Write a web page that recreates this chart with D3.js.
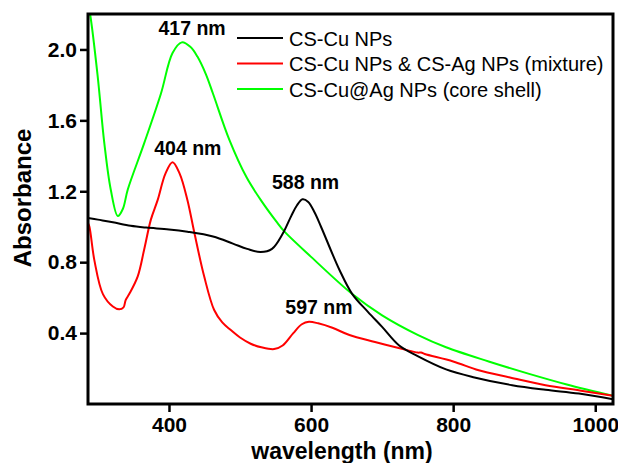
<!DOCTYPE html>
<html>
<head>
<meta charset="utf-8">
<script src="https://cdn.jsdelivr.net/npm/d3@7"></script>
<style>
  body { margin: 0; background: #fff; }
  text { font-family: "Liberation Sans", Arial, sans-serif; }
</style>
</head>
<body>
<div id="chart"></div>
<script>
// CS-Cu NPs (black)
var cuWl  = [286, 300, 321, 346, 368, 400, 426, 462, 490, 510, 529, 545, 560, 572, 580, 588, 596, 605, 614, 640, 658, 680, 700, 724, 750, 790, 830, 883, 930, 977, 1025];
var cuAbs = [1.05, 1.04, 1.025, 1.005, 0.995, 0.985, 0.972, 0.945, 0.905, 0.875, 0.857, 0.875, 0.96, 1.06, 1.12, 1.155, 1.14, 1.08, 1.0, 0.756, 0.62, 0.52, 0.435, 0.33, 0.27, 0.195, 0.15, 0.106, 0.08, 0.059, 0.027];

// CS-Cu NPs & CS-Ag NPs mixture (red)
var mixWl  = [286, 288, 295, 307, 321, 330, 336, 339, 344, 356, 365, 374.5, 384, 395, 405, 415, 426, 435.5, 449.5, 463.6, 475, 487, 500, 515, 530, 548, 560, 575, 587, 597, 610, 630, 654, 690, 729, 750, 755, 760, 800, 836, 880, 930, 980, 1025];
var mixAbs = [1.02, 1.0, 0.81, 0.62, 0.55, 0.534, 0.545, 0.586, 0.62, 0.72, 0.87, 1.04, 1.15, 1.3, 1.364, 1.3, 1.15, 0.97, 0.72, 0.53, 0.46, 0.417, 0.375, 0.34, 0.32, 0.31, 0.33, 0.4, 0.45, 0.464, 0.455, 0.43, 0.389, 0.35, 0.31, 0.29, 0.29, 0.282, 0.24, 0.19, 0.15, 0.106, 0.075, 0.046];

// CS-Cu@Ag core shell (green)
var csWl  = [286, 289, 299.6, 309, 318, 328, 335, 342, 365, 388.6, 405, 418, 430, 440, 452, 462, 485, 509, 531, 551, 562, 600, 658, 700, 750, 790, 850, 907, 960, 1025];
var csAbs = [2.25, 2.197, 1.85, 1.47, 1.21, 1.06, 1.1, 1.21, 1.47, 1.75, 1.98, 2.04, 2.015, 1.96, 1.86, 1.75, 1.49, 1.28, 1.14, 1.03, 0.975, 0.83, 0.62, 0.5, 0.39, 0.32, 0.24, 0.17, 0.11, 0.046];

var seriesNames = ["CS-Cu NPs", "CS-Cu NPs & CS-Ag NPs (mixture)", "CS-Cu@Ag NPs (core shell)"];
var seriesColors = ["#000000", "#ff0000", "#00ff00"];

var xTicks = [400, 600, 800, 1000];
var yTicks = [0.4, 0.8, 1.2, 1.6, 2.0];

var peakLabels = ["417 nm", "404 nm", "588 nm", "597 nm"];
var peakWl     = [417, 404, 588, 597];
var peakAbs    = [2.04, 1.364, 1.155, 0.464];

var width = 618, height = 463;
var margin = {top: 14, right: 5, bottom: 59, left: 88};
var iw = width - margin.left - margin.right;
var ih = height - margin.top - margin.bottom;

var x = d3.scaleLinear().domain([286, 1025]).range([0, iw]);
var y = d3.scaleLinear().domain([0, 2.2]).range([ih, 0]);

var svg = d3.select("#chart").append("svg")
    .attr("width", width).attr("height", height);
var g = svg.append("g").attr("transform", "translate(" + margin.left + "," + margin.top + ")");

g.append("clipPath").attr("id", "clip")
  .append("rect").attr("width", iw).attr("height", ih);

var line = d3.line()
    .x(function(d){ return x(d[0]); })
    .y(function(d){ return y(d[1]); })
    .curve(d3.curveCatmullRom.alpha(0.5));

var allData = [
  d3.zip(cuWl, cuAbs),
  d3.zip(mixWl, mixAbs),
  d3.zip(csWl, csAbs)
];

[2, 1, 0].forEach(function(i){
  g.append("path")
    .datum(allData[i])
    .attr("clip-path", "url(#clip)")
    .attr("fill", "none")
    .attr("stroke", seriesColors[i])
    .attr("stroke-width", 2)
    .attr("d", line);
});

// axes
var xAxis = g.append("g").attr("transform", "translate(0," + ih + ")")
  .call(d3.axisBottom(x).tickValues(xTicks).tickSize(8).tickPadding(5).tickFormat(d3.format("d")));
var yAxis = g.append("g")
  .call(d3.axisLeft(y).tickValues(yTicks).tickSize(8).tickPadding(3).tickFormat(d3.format(".1f")));
[xAxis, yAxis].forEach(function(a){
  a.select(".domain").remove();
  a.selectAll(".tick line").attr("stroke", "#000").attr("stroke-width", 2.5);
  a.selectAll(".tick text").attr("fill", "#000")
    .style("font-size", "21px").style("font-weight", "bold");
});

// frame
g.append("rect")
  .attr("width", iw).attr("height", ih)
  .attr("fill", "none").attr("stroke", "#000").attr("stroke-width", 3);

// axis titles
svg.append("text")
  .attr("x", 342).attr("y", 459)
  .attr("text-anchor", "middle")
  .style("font-size", "23px").style("font-weight", "bold")
  .text("wavelength (nm)");
svg.append("text")
  .attr("transform", "translate(31,198) rotate(-90)")
  .attr("text-anchor", "middle")
  .style("font-size", "24px").style("font-weight", "bold")
  .text("Absorbance");

// peak labels
var offs = [[11, -7], [16, -7], [3, -10], [10, -8]];
peakLabels.forEach(function(t, i){
  g.append("text")
    .attr("x", x(peakWl[i]) + offs[i][0])
    .attr("y", y(peakAbs[i]) + offs[i][1])
    .attr("text-anchor", "middle")
    .style("font-size", "19.5px").style("font-weight", "bold")
    .text(t);
});

// legend
var leg = svg.append("g").attr("transform", "translate(237,38)");
seriesNames.forEach(function(n, i){
  var row = leg.append("g").attr("transform", "translate(0," + (i * 25.5) + ")");
  row.append("line").attr("x1", 0).attr("x2", 46)
    .attr("stroke", seriesColors[i]).attr("stroke-width", 2);
  row.append("text").attr("x", 52).attr("y", 7.5)
    .style("font-size", "20px")
    .text(n);
});
</script>
</body>
</html>
